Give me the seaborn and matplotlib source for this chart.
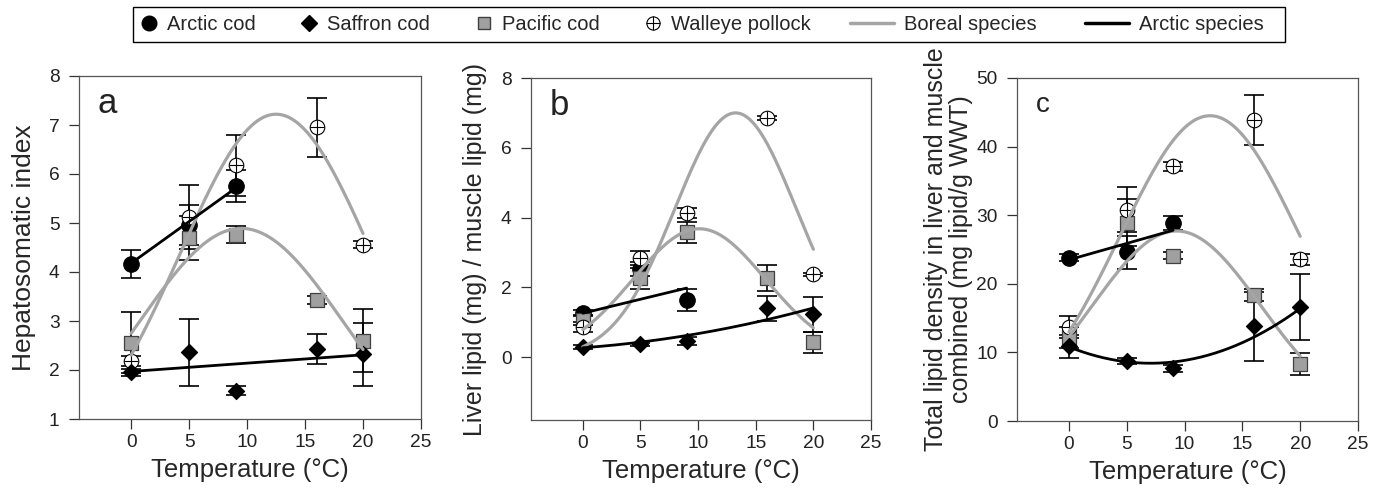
import numpy as np
import pandas as pd
import matplotlib
matplotlib.use("Agg")
import matplotlib.pyplot as plt
from matplotlib.lines import Line2D
from matplotlib.patches import Rectangle
import seaborn as sns

sns.set_theme(style='ticks')
plt.rcParams['font.family'] = ['Liberation Sans', 'DejaVu Sans']

temps = [0, 5, 9, 16, 20]
temps_arctic = [0, 5, 9]
species = ['Arctic cod', 'Saffron cod', 'Pacific cod', 'Walleye pollock']

# panel a - hepatosomatic index (mean, se)
hsi_arctic = [4.16, 4.96, 5.76]
hsi_arctic_se = [0.29, 0.41, 0.33]
hsi_saffron = [1.95, 2.36, 1.58, 2.43, 2.32]
hsi_saffron_se = [0.08, 0.69, 0.10, 0.31, 0.64]
hsi_pacific = [2.56, 4.69, 4.76, 3.43, 2.60]
hsi_pacific_se = [0.62, 0.45, 0.17, 0.08, 0.64]
hsi_walleye = [2.19, 5.12, 6.18, 6.95, 4.56]
hsi_walleye_se = [0.10, 0.65, 0.62, 0.60, 0.07]

# panel b - liver lipid / muscle lipid
ratio_arctic = [1.26, 2.52, 1.63]
ratio_arctic_se = [0.08, 0.20, 0.32]
ratio_saffron = [0.29, 0.37, 0.46, 1.40, 1.23]
ratio_saffron_se = [0.05, 0.05, 0.12, 0.35, 0.50]
ratio_pacific = [1.06, 2.26, 3.58, 2.27, 0.43]
ratio_pacific_se = [0.15, 0.30, 0.30, 0.37, 0.30]
ratio_walleye = [0.86, 2.84, 4.13, 6.85, 2.37]
ratio_walleye_se = [0.15, 0.20, 0.15, 0.05, 0.05]

# panel c - total lipid density
dens_arctic = [23.8, 24.6, 28.9]
dens_arctic_se = [0.5, 2.4, 1.0]
dens_saffron = [10.9, 8.75, 7.7, 13.8, 16.6]
dens_saffron_se = [1.7, 0.4, 0.5, 5.0, 4.8]
dens_pacific = [12.2, 28.9, 24.1, 18.4, 8.3]
dens_pacific_se = [1.5, 3.4, 0.5, 0.9, 1.6]
dens_walleye = [13.7, 30.8, 37.1, 43.9, 23.6]
dens_walleye_se = [1.6, 3.3, 0.6, 3.6, 0.8]

# fitted curves
# boreal species: gaussian (peak, centre, width)
boreal_fit_a = {'Pacific cod': [4.89, 9.5, 8.85], 'Walleye pollock': [7.22, 12.5, 8.27]}
boreal_fit_b = {'Pacific cod': [3.68, 10.1, 5.76], 'Walleye pollock': [7.0, 13.25, 5.28]}
boreal_fit_c = {'Pacific cod': [27.7, 9.3, 7.3], 'Walleye pollock': [44.5, 12.2, 7.78]}
# arctic species: polynomial (c0, c1, c2)
arctic_fit_a = {'Arctic cod': [4.18, 0.17, 0.0], 'Saffron cod': [1.97, 0.017, 0.0]}
arctic_fit_b = {'Arctic cod': [1.26, 0.08, 0.0], 'Saffron cod': [0.27, 0.0241, 0.001646]}
arctic_fit_c = {'Arctic cod': [23.5, 0.478, 0.0], 'Saffron cod': [10.8, -0.6736, 0.04768]}


def long_df(arctic, arctic_se, saffron, saffron_se, pacific, pacific_se, walleye, walleye_se):
    rows = []
    for t, v, e in zip(temps_arctic, arctic, arctic_se):
        rows.append(('Arctic cod', t, v, e))
    for name, vals, errs in [('Saffron cod', saffron, saffron_se),
                             ('Pacific cod', pacific, pacific_se),
                             ('Walleye pollock', walleye, walleye_se)]:
        for t, v, e in zip(temps, vals, errs):
            rows.append((name, t, v, e))
    return pd.DataFrame(rows, columns=['species', 'temp', 'value', 'se'])


panels = [
    dict(df=long_df(hsi_arctic, hsi_arctic_se, hsi_saffron, hsi_saffron_se,
                    hsi_pacific, hsi_pacific_se, hsi_walleye, hsi_walleye_se),
         boreal=boreal_fit_a, arctic=arctic_fit_a, ylim=(1, 8), yticks=range(1, 9),
         ylabel='Hepatosomatic index', ysize=19, letter='a', lsize=25, labx=-0.125,
         pos=[79 / 1381, 69 / 488, 342 / 1381, 343 / 488]),
    dict(df=long_df(ratio_arctic, ratio_arctic_se, ratio_saffron, ratio_saffron_se,
                    ratio_pacific, ratio_pacific_se, ratio_walleye, ratio_walleye_se),
         boreal=boreal_fit_b, arctic=arctic_fit_b, ylim=(-1.8, 8), yticks=range(0, 9, 2),
         ylabel='Liver lipid (mg) / muscle lipid (mg)', ysize=18, letter='b', lsize=25,
         labx=-0.128, pos=[531 / 1381, 68 / 488, 340 / 1381, 342 / 488]),
    dict(df=long_df(dens_arctic, dens_arctic_se, dens_saffron, dens_saffron_se,
                    dens_pacific, dens_pacific_se, dens_walleye, dens_walleye_se),
         boreal=boreal_fit_c, arctic=arctic_fit_c, ylim=(0, 50), yticks=range(0, 51, 10),
         ylabel='Total lipid density in liver and muscle\ncombined (mg lipid/g WWT)',
         ysize=18, letter='c', lsize=20, labx=-0.13,
         pos=[1017 / 1381, 67 / 488, 341 / 1381, 343 / 488]),
]

gray = '#a5a5a5'
styles = {
    'Arctic cod': dict(marker='o', s=125, color='black', edgecolor='black', linewidth=0.8),
    'Saffron cod': dict(marker='D', s=68, color='black', edgecolor='black', linewidth=0.8),
    'Pacific cod': dict(marker='s', s=90, color='#a0a0a0', edgecolor='#404040', linewidth=0.9),
    'Walleye pollock': dict(marker='o', s=110, color='white', edgecolor='black', linewidth=0.8),
}

fig = plt.figure(figsize=(13.81, 4.88), dpi=100)

for p in panels:
    ax = fig.add_axes(p['pos'])
    df = p['df']

    for name, (peak, mu, sd) in p['boreal'].items():
        xs = np.linspace(0, 20, 200)
        sns.lineplot(x=xs, y=peak * np.exp(-0.5 * ((xs - mu) / sd) ** 2), ax=ax,
                     color=gray, lw=2.3, zorder=4)
    for name, coefs in p['arctic'].items():
        xmax = max(df.loc[df.species == name, 'temp'])
        xs = np.linspace(0, xmax, 200)
        sns.lineplot(x=xs, y=np.polyval(coefs[::-1], xs), ax=ax,
                     color='black', lw=2.0, zorder=4)

    for name in ['Arctic cod', 'Pacific cod', 'Walleye pollock', 'Saffron cod']:
        d = df[df.species == name]
        ax.errorbar(d.temp, d.value, yerr=d.se, fmt='none', ecolor='black',
                    elinewidth=1.2, capsize=7, capthick=1.2, zorder=2)
        sns.scatterplot(data=d, x='temp', y='value', ax=ax, zorder=3, **styles[name])
        if name == 'Walleye pollock':
            sns.scatterplot(data=d, x='temp', y='value', ax=ax, marker='+', s=110,
                            color='black', linewidth=0.8, zorder=3)

    ax.set_xlim(-4.5, 25)
    ax.set_ylim(*p['ylim'])
    ax.set_xticks(range(0, 26, 5))
    ax.set_yticks(list(p['yticks']))
    ax.set_xlabel('Temperature (°C)', fontsize=18.5, labelpad=5)
    ax.set_ylabel(p['ylabel'], fontsize=p['ysize'], linespacing=1.05)
    ax.yaxis.set_label_coords(p['labx'], 0.5)
    ax.tick_params(direction='out', length=7, width=0.9, colors='#333333',
                   labelsize=13.8, labelcolor='#222222')
    ax.tick_params(axis='y', pad=7)
    ax.tick_params(axis='x', pad=4)
    for sp in ax.spines.values():
        sp.set_color('#555555')
        sp.set_linewidth(0.9)
    ax.text(0.055, 0.92, p['letter'], transform=ax.transAxes, fontsize=p['lsize'],
            va='center', ha='left', color='#222222')

# legend: symbols on the left, fitted lines on the right, one frame round both
h_arctic = Line2D([], [], marker='o', ls='none', color='black', markersize=10.5)
h_saffron = Line2D([], [], marker='D', ls='none', color='black', markersize=8)
h_pacific = Line2D([], [], marker='s', ls='none', mfc='#a0a0a0', mec='#404040', markersize=8)
h_walleye = (Line2D([], [], marker='o', ls='none', mfc='white', mec='black', markersize=9.5, mew=0.8),
             Line2D([], [], marker='+', ls='none', color='black', markersize=9.5, mew=0.8))
h_boreal = Line2D([], [], color=gray, lw=2.5)
h_arcline = Line2D([], [], color='black', lw=2.5)

leg_y = 1 - 24.5 / 488
leg1 = fig.legend([h_arctic, h_saffron, h_pacific, h_walleye], species,
                  loc='center left', bbox_to_anchor=(140 / 1381, leg_y), ncol=4,
                  frameon=False, fontsize=14.5, handlelength=0.9, handletextpad=0.45,
                  columnspacing=2.2, borderpad=0, borderaxespad=0)
leg2 = fig.legend([h_boreal, h_arcline], ['Boreal species', 'Arctic species'],
                  loc='center right', bbox_to_anchor=(1264 / 1381, leg_y), ncol=2,
                  frameon=False, fontsize=14.5, handlelength=2.2, handletextpad=0.5,
                  columnspacing=2.4, borderpad=0, borderaxespad=0)
fig.add_artist(Rectangle((133 / 1381, 1 - 42 / 488), 1152 / 1381, 35 / 488,
                         transform=fig.transFigure, fill=False, edgecolor='black', lw=1.0))

fig.savefig('out.png', dpi=100)
